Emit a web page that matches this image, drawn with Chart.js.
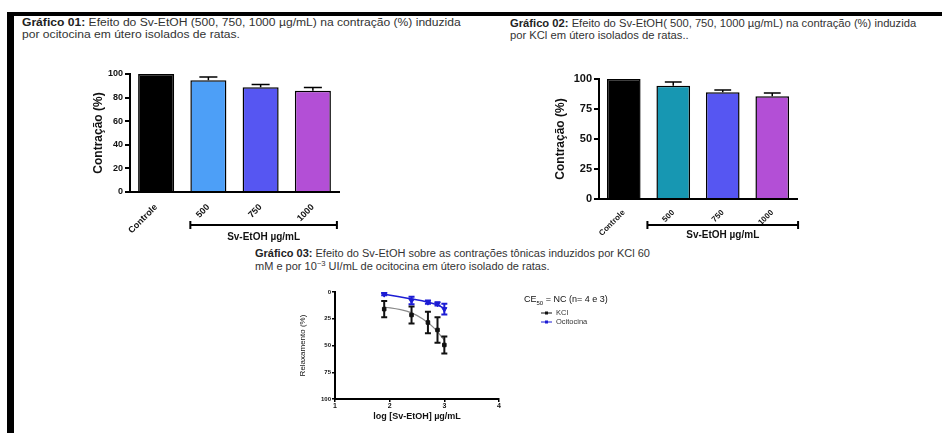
<!DOCTYPE html>
<html>
<head>
<meta charset="utf-8">
<script src="https://cdn.jsdelivr.net/npm/chart.js@4.4.1/dist/chart.umd.min.js"></script>
<style>
  body { margin: 0; background: #fff; width: 942px; height: 433px; overflow: hidden; position: relative; font-family: Arial, "Liberation Sans", sans-serif; }
  .frame-top { position: absolute; left: 7px; top: 12px; width: 935px; height: 4px; background: #000; }
  .frame-left { position: absolute; left: 7px; top: 12px; width: 7px; height: 421px; background: #000; }
  .cap { position: absolute; font-size: 10px; line-height: 12px; color: #333; white-space: nowrap; transform-origin: left top; }
  .cap b { color: #222; }
  canvas { position: absolute; }
</style>
</head>
<body>
<div class="frame-top"></div>
<div class="frame-left"></div>

<div class="cap" style="left:22px; top:17px; transform:scaleX(1.21);"><b>Gráfico 01:</b> Efeito do Sv-EtOH (500, 750, 1000 µg/mL) na contração (%) induzida<br>por ocitocina em útero isolados de ratas.</div>
<div class="cap" style="left:510px; top:18px; transform:scaleX(1.12);"><b>Gráfico 02:</b> Efeito do Sv-EtOH( 500, 750, 1000 µg/mL) na contração (%) induzida<br>por KCl em útero isolados de ratas..</div>
<div class="cap" style="left:255px; top:247px; line-height:13px; transform:scaleX(1.1);"><b>Gráfico 03:</b> Efeito do Sv-EtOH sobre as contrações tônicas induzidos por KCl 60<br>mM e por 10<sup style="font-size:7px;line-height:0">−3</sup> UI/mL de ocitocina em útero isolado de ratas.</div>

<canvas id="chart1" width="265" height="190" style="left:80px; top:60px;"></canvas>
<canvas id="chart2" width="265" height="190" style="left:540px; top:60px;"></canvas>
<canvas id="chart3" width="340" height="150" style="left:290px; top:280px;"></canvas>

<script>
// ---- data ----
const barLabels = ['Controle', '500', '750', '1000'];
const ocitocinaContr = [100, 94.7, 88.8, 85.8];
const ocitocinaErr = [0, 2.8, 2.2, 2.8];
const kclContr = [100, 94.4, 88.9, 85.6];
const kclErr = [0, 3.2, 2.0, 2.7];
const colors1 = ['#000000', '#4d9ff7', '#5656f2', '#b34fd6'];
const colors2 = ['#000000', '#1797b2', '#5656f2', '#b34fd6'];
const ticks1 = [0, 20, 40, 60, 80, 100];
const ticks2 = [0, 25, 50, 75, 100];

const logDose = [1.9, 2.4, 2.7, 2.875, 3.0];
const kclRelax = [16, 21.5, 28.5, 35.5, 49.5];
const kclRelaxErr = [7.5, 8, 10, 12, 8];
const ociRelax = [2, 8, 9.5, 11, 16];
const ociRelaxErr = [1, 3.5, 1.5, 1.5, 5];
// fitted curves
const kclFitX = [1.9, 2.2, 2.4, 2.6, 2.8, 3.0];
const kclFitY = [14, 16.5, 19.5, 25, 33, 45];
const ociFitX = [1.9, 2.4, 2.7, 2.875, 3.0];
const ociFitY = [2, 6.5, 9.5, 12, 15.5];

const FONT = 'Arial, "Liberation Sans", sans-serif';
Chart.defaults.font.family = FONT;
Chart.defaults.color = '#111';

// error bars on top of bars (upwards only)
const barErrors = {
  id: 'barErrors',
  afterDatasetsDraw(chart, args, opts) {
    const ctx = chart.ctx;
    const meta = chart.getDatasetMeta(0);
    const ys = chart.scales.y;
    ctx.save();
    ctx.strokeStyle = '#000';
    ctx.lineWidth = 1.5;
    meta.data.forEach((bar, i) => {
      const e = opts.errors[i];
      if (!e) return;
      const v = chart.data.datasets[0].data[i];
      const yTop = ys.getPixelForValue(v + e);
      const half = bar.width * 0.25;
      ctx.beginPath();
      ctx.moveTo(bar.x, bar.y);
      ctx.lineTo(bar.x, yTop);
      ctx.moveTo(bar.x - half, yTop);
      ctx.lineTo(bar.x + half, yTop);
      ctx.stroke();
    });
    ctx.restore();
  }
};

// bracket under the dose groups
const bracket = {
  id: 'bracket',
  afterDraw(chart, args, opts) {
    const ctx = chart.ctx;
    const meta = chart.getDatasetMeta(0);
    const a = meta.data[1], b = meta.data[3];
    const x1 = a.x - a.width / 2 - opts.extL;
    const x2 = b.x + b.width / 2 + opts.extR;
    const y = chart.chartArea.bottom + opts.dy;
    ctx.save();
    ctx.strokeStyle = '#000';
    ctx.lineWidth = 2;
    ctx.beginPath();
    ctx.moveTo(x1, y); ctx.lineTo(x2, y);
    ctx.moveTo(x1, y - 4); ctx.lineTo(x1, y + 4);
    ctx.moveTo(x2, y - 4); ctx.lineTo(x2, y + 4);
    ctx.stroke();
    ctx.fillStyle = '#111';
    ctx.font = 'bold 10px ' + FONT;
    ctx.textAlign = 'center';
    ctx.textBaseline = 'middle';
    ctx.fillText(opts.text, (x1 + x2) / 2, y + opts.textDy);
    ctx.restore();
  }
};

function barChart(id, values, errs, colors, ticks, cfg) {
  return new Chart(document.getElementById(id), {
    type: 'bar',
    data: {
      labels: barLabels,
      datasets: [{
        data: values,
        backgroundColor: colors,
        borderColor: '#000',
        borderWidth: 1.5,
        barPercentage: cfg.barPct,
        categoryPercentage: 1
      }]
    },
    options: {
      responsive: false,
      animation: false,
      layout: { padding: cfg.pad },
      plugins: {
        legend: { display: false },
        tooltip: { enabled: false },
        barErrors: { errors: errs },
        bracket: { text: 'Sv-EtOH µg/mL', dy: cfg.bracketDy, textDy: cfg.textDy, extL: cfg.extL, extR: cfg.extR }
      },
      scales: {
        x: {
          grid: { display: false },
          border: { color: '#000', width: 2 },
          ticks: { minRotation: 45, maxRotation: 45, padding: cfg.xPad, font: { size: cfg.xTick, weight: 'bold' }, color: '#111' },
          afterFit(s) { s.height = cfg.xH; }
        },
        y: {
          min: 0, max: 100,
          afterBuildTicks(s) { s.ticks = ticks.map(v => ({ value: v })); },
          grid: { drawOnChartArea: false, tickLength: 5, color: '#000', lineWidth: 2 },
          border: { color: '#000', width: 2 },
          ticks: { padding: 2, font: { size: cfg.yTick, weight: 'bold' }, color: '#111' },
          title: { display: true, text: 'Contração (%)', font: { size: 12, weight: 'bold' }, color: '#111', padding: { top: cfg.titlePad, bottom: 0 } },
          afterFit(s) { s.width = cfg.yW; }
        }
      }
    },
    plugins: [barErrors, bracket]
  });
}

barChart('chart1', ocitocinaContr, ocitocinaErr, colors1, ticks1, {
  pad: { top: 14, right: 6, left: 0, bottom: 0 }, barPct: 0.69, yW: 50, xH: 58, titlePad: 11,
  yTick: 9, xTick: 9, xPad: 2, bracketDy: 33, textDy: 12, extL: 0, extR: 6
});
barChart('chart2', kclContr, kclErr, colors2, ticks2, {
  pad: { top: 19, right: 8, left: 0, bottom: 0 }, barPct: 0.68, yW: 59, xH: 51, titlePad: 13,
  yTick: 11, xTick: 8, xPad: 1, bracketDy: 26, textDy: 10, extL: 9, extR: 9
});

// ---- chart 3: concentration-response ----
const xyErrors = {
  id: 'xyErrors',
  afterDatasetsDraw(chart) {
    const ctx = chart.ctx;
    const ys = chart.scales.y;
    chart.data.datasets.forEach((ds, di) => {
      if (!ds.errors) return;
      const meta = chart.getDatasetMeta(di);
      ctx.save();
      ctx.strokeStyle = ds.borderColor;
      ctx.lineWidth = 2;
      meta.data.forEach((p, i) => {
        const v = ds.data[i].y, e = ds.errors[i];
        const y1 = ys.getPixelForValue(v - e), y2 = ys.getPixelForValue(v + e);
        ctx.beginPath();
        ctx.moveTo(p.x, y1); ctx.lineTo(p.x, y2);
        ctx.moveTo(p.x - 3, y1); ctx.lineTo(p.x + 3, y1);
        ctx.moveTo(p.x - 3, y2); ctx.lineTo(p.x + 3, y2);
        ctx.stroke();
      });
      ctx.restore();
    });
  }
};

const sideLegend = {
  id: 'sideLegend',
  afterDraw(chart) {
    const ctx = chart.ctx;
    const x0 = 234, y0 = 20;
    ctx.save();
    ctx.fillStyle = '#111';
    ctx.textBaseline = 'middle';
    ctx.font = '9px ' + FONT;
    ctx.fillText('CE', x0, y0);
    let w = ctx.measureText('CE').width;
    ctx.font = '6px ' + FONT;
    ctx.fillText('50', x0 + w, y0 + 3);
    w += ctx.measureText('50').width;
    ctx.font = '9px ' + FONT;
    ctx.fillText(' = NC (n= 4 e 3)', x0 + w, y0);
    chart.data.datasets.forEach((ds, di) => {
      if (!ds.errors) return;
      const y = y0 + 13 + di * 9;
      ctx.strokeStyle = ds.borderColor;
      ctx.fillStyle = ds.borderColor;
      ctx.lineWidth = 1;
      ctx.beginPath();
      ctx.moveTo(251, y); ctx.lineTo(262, y);
      ctx.stroke();
      ctx.fillRect(255, y - 1.5, 3, 3);
      ctx.fillStyle = '#333';
      ctx.font = '7.5px ' + FONT;
      ctx.fillText(ds.label, 266, y);
    });
    ctx.restore();
  }
};

new Chart(document.getElementById('chart3'), {
  type: 'scatter',
  data: {
    datasets: [
      {
        label: 'KCl',
        data: logDose.map((x, i) => ({ x, y: kclRelax[i] })),
        errors: kclRelaxErr,
        borderColor: '#111', backgroundColor: '#111',
        pointStyle: 'rect', pointRadius: 2.5, showLine: false
      },
      {
        label: 'Ocitocina',
        data: logDose.map((x, i) => ({ x, y: ociRelax[i] })),
        errors: ociRelaxErr,
        borderColor: '#1c1cd4', backgroundColor: '#1c1cd4',
        pointStyle: 'triangle', rotation: 180, pointRadius: 3, showLine: false
      },
      {
        label: 'KCl fit',
        data: kclFitX.map((x, i) => ({ x, y: kclFitY[i] })),
        borderColor: '#8a8a8a', borderWidth: 1.2, pointRadius: 0, showLine: true, tension: 0.4
      },
      {
        label: 'Ocitocina fit',
        data: ociFitX.map((x, i) => ({ x, y: ociFitY[i] })),
        borderColor: '#1c1cd4', borderWidth: 1.5, pointRadius: 0, showLine: true, tension: 0.4
      }
    ]
  },
  options: {
    responsive: false,
    animation: false,
    layout: { padding: { top: 12, right: 131, left: 0, bottom: 0 } },
    plugins: { legend: { display: false }, tooltip: { enabled: false } },
    scales: {
      x: {
        type: 'linear', min: 1, max: 4,
        afterBuildTicks(s) { s.ticks = [1, 2, 3, 4].map(v => ({ value: v })); },
        grid: { drawOnChartArea: false, tickLength: 3, color: '#000', lineWidth: 1.5 },
        border: { color: '#000', width: 2 },
        ticks: { padding: 0, font: { size: 7, weight: 'bold' }, color: '#111' },
        title: { display: true, text: 'log [Sv-EtOH] µg/mL', font: { size: 9, weight: 'bold' }, color: '#111', padding: { top: 0, bottom: 8 } },
        afterFit(s) { s.height = 31; }
      },
      y: {
        min: 0, max: 100, reverse: true,
        afterBuildTicks(s) { s.ticks = [0, 25, 50, 75, 100].map(v => ({ value: v })); },
        grid: { drawOnChartArea: false, tickLength: 3, color: '#000', lineWidth: 1.5 },
        border: { color: '#000', width: 2 },
        ticks: { padding: 1, font: { size: 6, weight: 'bold' }, color: '#111' },
        title: { display: true, text: 'Relaxamento (%)', font: { size: 8 }, color: '#111', padding: { top: 8, bottom: 0 } },
        afterFit(s) { s.width = 45; }
      }
    }
  },
  plugins: [xyErrors, sideLegend]
});
</script>
</body>
</html>
